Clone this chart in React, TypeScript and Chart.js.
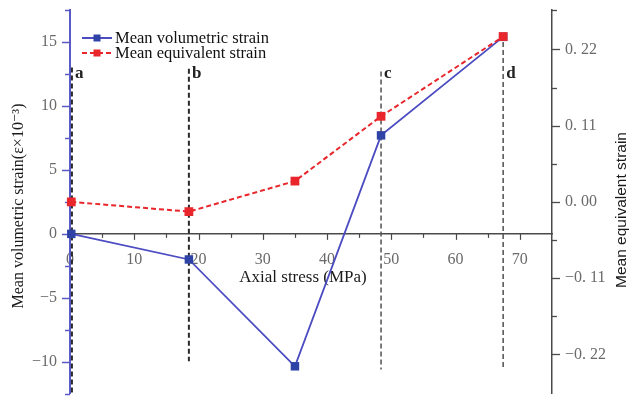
import React, { useEffect, useRef } from "react";
import { Chart, registerables } from "chart.js";

Chart.register(...registerables);

// ---- data ----
const stress = [0.2, 18.5, 35.0, 48.4, 67.4];
const volumetricStrain = [0.0, -2.0, -10.35, 7.7, 15.4];
const equivalentStrain = [0.0, -0.014, 0.03, 0.1235, 0.2385];
const seriesNames = ["Mean volumetric strain", "Mean equivalent strain"];

const stageLabels = ["a", "b", "c", "d"];
const stageStress = [0.3, 18.5, 48.4, 67.4];
const stageTop = [13.0, 12.9, 12.7, 15.0];
const stageBottom = [-12.5, -9.95, -10.6, -10.6];
const stageLabelLevel = 12.2;

const xTicks = [0, 10, 20, 30, 40, 50, 60, 70];
const xTickLabels = ["0", "10", "20", "30", "40", "50", "60", "70"];
const leftTicks = [-10, -5, 0, 5, 10, 15];
const leftTickLabels = ["\u221210", "\u22125", "0", "5", "10", "15"];
const rightTicks = [-0.22, -0.11, 0, 0.11, 0.22];
const rightTickLabels = ["\u22120. 22", "\u22120. 11", "0. 00", "0. 11", "0. 22"];

const xTitle = "Axial stress (MPa)";
const leftTitle = "Mean volumetric strain(\u03b5\u00d710\u207b\u00b3)";
const rightTitle = "Mean equivalent strain";

const X_MIN = 0, X_MAX = 75;
const L_MIN = -12.5, L_MAX = 17.5;
const R_MAX = 0.2768;

const BLUE_LINE = "#4b4bc2";
const BLUE_MARK = "#2f43a6";
const RED = "#e8262b";
const LEFT_AXIS = "#5a5ac6";
const DARK = "#4a4a4a";
const TICK_TEXT = "#6a6a6a";
const SERIF = "'Liberation Serif', 'DejaVu Serif', serif";
const SANS = "'Liberation Sans', Arial, sans-serif";

function seg(ctx: CanvasRenderingContext2D, x1: number, y1: number, x2: number, y2: number) {
  ctx.beginPath();
  ctx.moveTo(x1, y1);
  ctx.lineTo(x2, y2);
  ctx.stroke();
}

const decorPlugin = {
  id: "decor",
  beforeDatasetsDraw(chart: any) {
    const { ctx, scales } = chart;
    const x = scales.x, y = scales.y, y1 = scales.y1;
    ctx.save();
    // x ticks (downward)
    const y0 = y.getPixelForValue(0);
    ctx.strokeStyle = DARK;
    ctx.lineWidth = 1.2;
    for (let v = 5; v < X_MAX; v += 5) {
      const px = Math.round(x.getPixelForValue(v)) + 0.5;
      seg(ctx, px, y0, px, y0 + (v % 10 === 0 ? 6 : 4));
    }
    // left ticks (leftward)
    ctx.strokeStyle = LEFT_AXIS;
    ctx.lineWidth = 1.5;
    const lx = x.getPixelForValue(X_MIN);
    for (let v = L_MIN; v <= L_MAX + 1e-9; v += 2.5) {
      const py = Math.round(y.getPixelForValue(v)) + 0.5;
      const major = Math.abs(v % 5) < 1e-9;
      seg(ctx, lx, py, lx - (major ? 8 : 5), py);
    }
    // right ticks (rightward)
    ctx.strokeStyle = DARK;
    ctx.lineWidth = 1.3;
    const rx = x.getPixelForValue(X_MAX);
    for (let k = -4; k <= 4; k++) {
      const v = k * 0.055;
      const py = Math.round(y1.getPixelForValue(v)) + 0.5;
      seg(ctx, rx, py, rx + (k % 2 === 0 ? 8 : 5), py);
    }
    const topPy = Math.round(y1.getPixelForValue(R_MAX)) + 0.5;
    seg(ctx, rx, topPy, rx + 5, topPy);

    // titles
    ctx.fillStyle = "#1a1a1a";
    ctx.textAlign = "center";
    ctx.textBaseline = "middle";
    ctx.font = `17px ${SERIF}`;
    ctx.fillText(xTitle, 303, y0 + 44);

    ctx.save();
    ctx.translate(19, 206);
    ctx.rotate(-Math.PI / 2);
    ctx.font = `16px ${SERIF}`;
    ctx.fillText(leftTitle, 0, 0);
    ctx.restore();

    ctx.save();
    ctx.translate(622, 210);
    ctx.rotate(-Math.PI / 2);
    ctx.font = `15.5px ${SANS}`;
    ctx.fillText(rightTitle, 0, 0);
    ctx.restore();

    ctx.restore();
  },
  afterDraw(chart: any) {
    const { ctx, scales } = chart;
    const x = scales.x, y = scales.y;
    ctx.save();
    // stage labels
    ctx.fillStyle = "#222";
    ctx.font = `bold 17px ${SERIF}`;
    ctx.textAlign = "left";
    ctx.textBaseline = "alphabetic";
    stageLabels.forEach((lab, i) => {
      ctx.fillText(lab, x.getPixelForValue(stageStress[i]) + 3, y.getPixelForValue(stageLabelLevel));
    });

    // legend
    const rows = [
      { name: seriesNames[0], color: BLUE_LINE, mark: BLUE_MARK, dash: [] as number[], yy: 38 },
      { name: seriesNames[1], color: RED, mark: RED, dash: [5, 3], yy: 53 },
    ];
    rows.forEach((r) => {
      ctx.strokeStyle = r.color;
      ctx.lineWidth = 2;
      ctx.setLineDash(r.dash);
      seg(ctx, 82, r.yy, 112, r.yy);
      ctx.setLineDash([]);
      ctx.fillStyle = r.mark;
      ctx.fillRect(93.5, r.yy - 3.5, 7, 7);
      ctx.fillStyle = "#111";
      ctx.font = `16.5px ${SERIF}`;
      ctx.textAlign = "left";
      ctx.textBaseline = "middle";
      ctx.fillText(r.name, 115, r.yy + 1);
    });
    ctx.restore();
  },
};

export default function App() {
  const canvasRef = useRef<HTMLCanvasElement | null>(null);

  useEffect(() => {
    document.body.style.margin = "0";
    const canvas = canvasRef.current;
    if (!canvas) return;

    const stageDatasets = stageStress.map((s, i) => ({
      type: "line" as const,
      label: "stage " + stageLabels[i],
      data: [
        { x: s, y: stageTop[i] },
        { x: s, y: stageBottom[i] },
      ],
      yAxisID: "y",
      borderColor: i < 2 ? "#2a2a2a" : "#5a5a5a",
      borderWidth: i < 2 ? 2 : 1.6,
      borderDash: [5, 3],
      pointRadius: 0,
      order: 3,
    }));

    const chart = new Chart(canvas, {
      type: "line",
      data: {
        datasets: [
          {
            label: seriesNames[1],
            data: stress.map((s, i) => ({ x: s, y: equivalentStrain[i] })),
            yAxisID: "y1",
            borderColor: RED,
            borderWidth: 2,
            borderDash: [5, 3],
            pointStyle: "rect",
            pointRadius: 6.2,
            pointBackgroundColor: RED,
            pointBorderColor: RED,
            pointBorderWidth: 0,
            tension: 0,
            clip: false,
            order: 0,
          } as any,
          {
            label: seriesNames[0],
            data: stress.map((s, i) => ({ x: s, y: volumetricStrain[i] })),
            yAxisID: "y",
            borderColor: BLUE_LINE,
            borderWidth: 1.8,
            pointStyle: "rect",
            pointRadius: 6,
            pointBackgroundColor: BLUE_MARK,
            pointBorderColor: BLUE_MARK,
            pointBorderWidth: 0,
            tension: 0,
            clip: false,
            order: 1,
          } as any,
          ...stageDatasets,
        ],
      },
      options: {
        responsive: false,
        animation: false,
        devicePixelRatio: 1,
        layout: { padding: { top: 10, bottom: 0, left: 0, right: 0 } },
        plugins: { legend: { display: false }, tooltip: { enabled: false } },
        scales: {
          x: {
            type: "linear",
            min: X_MIN,
            max: X_MAX,
            position: { y: 0 } as any,
            grid: { display: false, drawTicks: false },
            border: { display: true, color: DARK, width: 1.5 },
            ticks: {
              padding: 16,
              color: TICK_TEXT,
              font: { family: SERIF, size: 16 },
              maxRotation: 0,
              callback: (_v: any, i: number) => xTickLabels[i],
            },
            afterBuildTicks: (s: any) => {
              s.ticks = xTicks.map((v) => ({ value: v }));
            },
            afterFit: (s: any) => {
              s.paddingLeft = 0;
              s.paddingRight = 0;
              s.paddingTop = 0;
              s.paddingBottom = 0;
            },
          },
          y: {
            type: "linear",
            position: "left",
            min: L_MIN,
            max: L_MAX,
            grid: { display: false, drawTicks: false },
            border: { display: true, color: LEFT_AXIS, width: 2 },
            ticks: {
              padding: 13,
              color: TICK_TEXT,
              font: { family: SERIF, size: 16 },
              callback: (_v: any, i: number) => leftTickLabels[i],
            },
            afterBuildTicks: (s: any) => {
              s.ticks = leftTicks.map((v) => ({ value: v }));
            },
            afterFit: (s: any) => {
              s.width = 70;
              s.paddingTop = 0;
              s.paddingBottom = 0;
            },
          },
          y1: {
            type: "linear",
            position: "right",
            min: -R_MAX,
            max: R_MAX,
            grid: { display: false, drawTicks: false },
            border: { display: true, color: DARK, width: 1.5 },
            ticks: {
              padding: 13,
              color: TICK_TEXT,
              font: { family: SERIF, size: 16 },
              callback: (_v: any, i: number) => rightTickLabels[i],
            },
            afterBuildTicks: (s: any) => {
              s.ticks = rightTicks.map((v) => ({ value: v }));
            },
            afterFit: (s: any) => {
              s.width = 80;
              s.paddingTop = 0;
              s.paddingBottom = 0;
            },
          },
        },
      } as any,
      plugins: [decorPlugin],
    });

    return () => chart.destroy();
  }, []);

  return (
    <div style={{ width: 632, height: 400, background: "#fff" }}>
      <canvas ref={canvasRef} width={632} height={400} style={{ display: "block" }} />
    </div>
  );
}
